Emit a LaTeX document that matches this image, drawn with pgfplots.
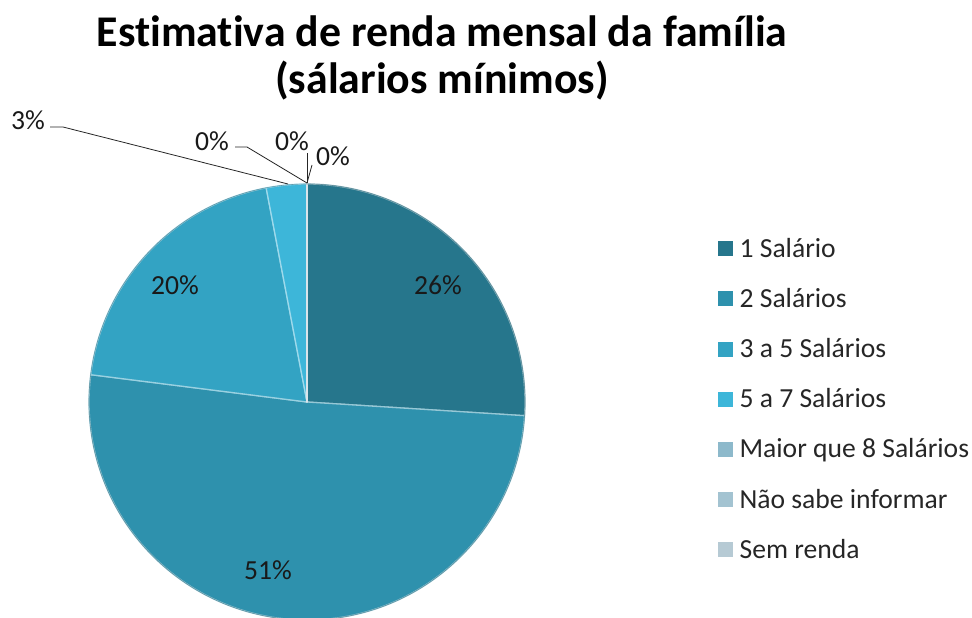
\documentclass[border=0pt]{standalone}
\usepackage{fontspec}
\setmainfont{Carlito}[Ligatures=NoCommon]
\usepackage{pgfplots}
\usepackage{pgfplotstable}
\pgfplotsset{compat=1.18}

\definecolor{c1}{HTML}{26768C}
\definecolor{c2}{HTML}{2E91AD}
\definecolor{c3}{HTML}{33A3C3}
\definecolor{c4}{HTML}{3DB6D9}
\definecolor{c5}{HTML}{8DB9CB}
\definecolor{c6}{HTML}{A3C3D1}
\definecolor{c7}{HTML}{B6CAD4}
\definecolor{txt}{HTML}{262626}

% share of each income class, in percent (clockwise from 12 o'clock)
\pgfplotstableread{
value col
26 c1
51 c2
20 c3
3  c4
0  c5
0  c6
0  c7
}\pietab

\newcommand{\legsq}[1]{\addlegendimage{legend image code/.code={%
    \fill[#1] (0bp,-7bp) rectangle (14bp,7bp); \path (20bp,0bp);}}}

\begin{document}
\begin{tikzpicture}
\begin{axis}[
    scale only axis,
    width=972bp, height=618bp,
    xmin=0, xmax=972, ymin=0, ymax=618,
    y dir=reverse,
    axis lines=none,
    xtick=\empty, ytick=\empty,
    legend style={at={(axis cs:718,237)}, anchor=north west,
        draw=none, fill=none, text=txt,
        font=\fontsize{27.7}{32}\selectfont,
        row sep=27.5bp, inner sep=0pt,
        nodes={inner sep=1bp}},
    legend cell align=left,
]
    % wedges
    \pgfplotstablegetrowsof{\pietab}
    \pgfmathtruncatemacro\nrows{\pgfplotsretval-1}
    \def\angA{90}
    \pgfplotsforeachungrouped \i in {0,...,\nrows}{%
        \pgfplotstablegetelem{\i}{value}\of\pietab
        \let\sliceval\pgfplotsretval
        \pgfplotstablegetelem{\i}{col}\of\pietab
        \let\slicecol\pgfplotsretval
        \pgfmathsetmacro\angB{\angA-3.6*\sliceval}
        \edef\temp{\noexpand\fill[fill=\slicecol, draw=white!50!\slicecol, line width=1.3bp, line join=round]
            (axis cs:307,402) -- ++(\angA:218bp) arc[start angle=\angA, end angle=\angB, radius=218bp] -- cycle;}
        \temp
        \global\let\angA\angB
    }
    % outer rim
    \draw[c1!70!black, line width=0.6bp, opacity=0.45] (axis cs:307,402) circle[radius=218bp];

    % title
    \node[font=\fontsize{44}{46}\selectfont\bfseries, anchor=base, text=black]
        at (axis cs:442,47) {Estimativa de renda mensal da família};
    \node[font=\fontsize{44}{46}\selectfont\bfseries, anchor=base, text=black]
        at (axis cs:442,93) {(sálarios mínimos)};

    % data labels
    \begin{scope}[every node/.style={font=\fontsize{27.7}{32}\selectfont, text=black!90}]
        \node at (axis cs:438,285) {26\%};
        \node at (axis cs:268,570) {51\%};
        \node at (axis cs:175,285) {20\%};
        \node at (axis cs:28,120) {3\%};
        \node at (axis cs:212,141) {0\%};
        \node at (axis cs:292,141) {0\%};
        \node at (axis cs:333,156) {0\%};
    \end{scope}
    % leader lines
    \draw[black!85, line width=0.8bp] (axis cs:50,127) -- (axis cs:63,127) -- (axis cs:288,184);
    \draw[black!85, line width=0.8bp] (axis cs:235,147) -- (axis cs:247,147) -- (axis cs:307,183);
    \draw[black!85, line width=0.8bp] (axis cs:307,153) -- (axis cs:307,183);
    \draw[black!85, line width=0.8bp] (axis cs:312,165) -- (axis cs:307,183);

    % legend
    \legsq{c1}\addlegendentry{1 Salário}
    \legsq{c2}\addlegendentry{2 Salários}
    \legsq{c3}\addlegendentry{3 a 5 Salários}
    \legsq{c4}\addlegendentry{5 a 7 Salários}
    \legsq{c5}\addlegendentry{Maior que 8 Salários}
    \legsq{c6}\addlegendentry{Não sabe informar}
    \legsq{c7}\addlegendentry{Sem renda}
\end{axis}
\pgfresetboundingbox
\path (current axis.south west) rectangle (current axis.north east);
\end{tikzpicture}
\end{document}
